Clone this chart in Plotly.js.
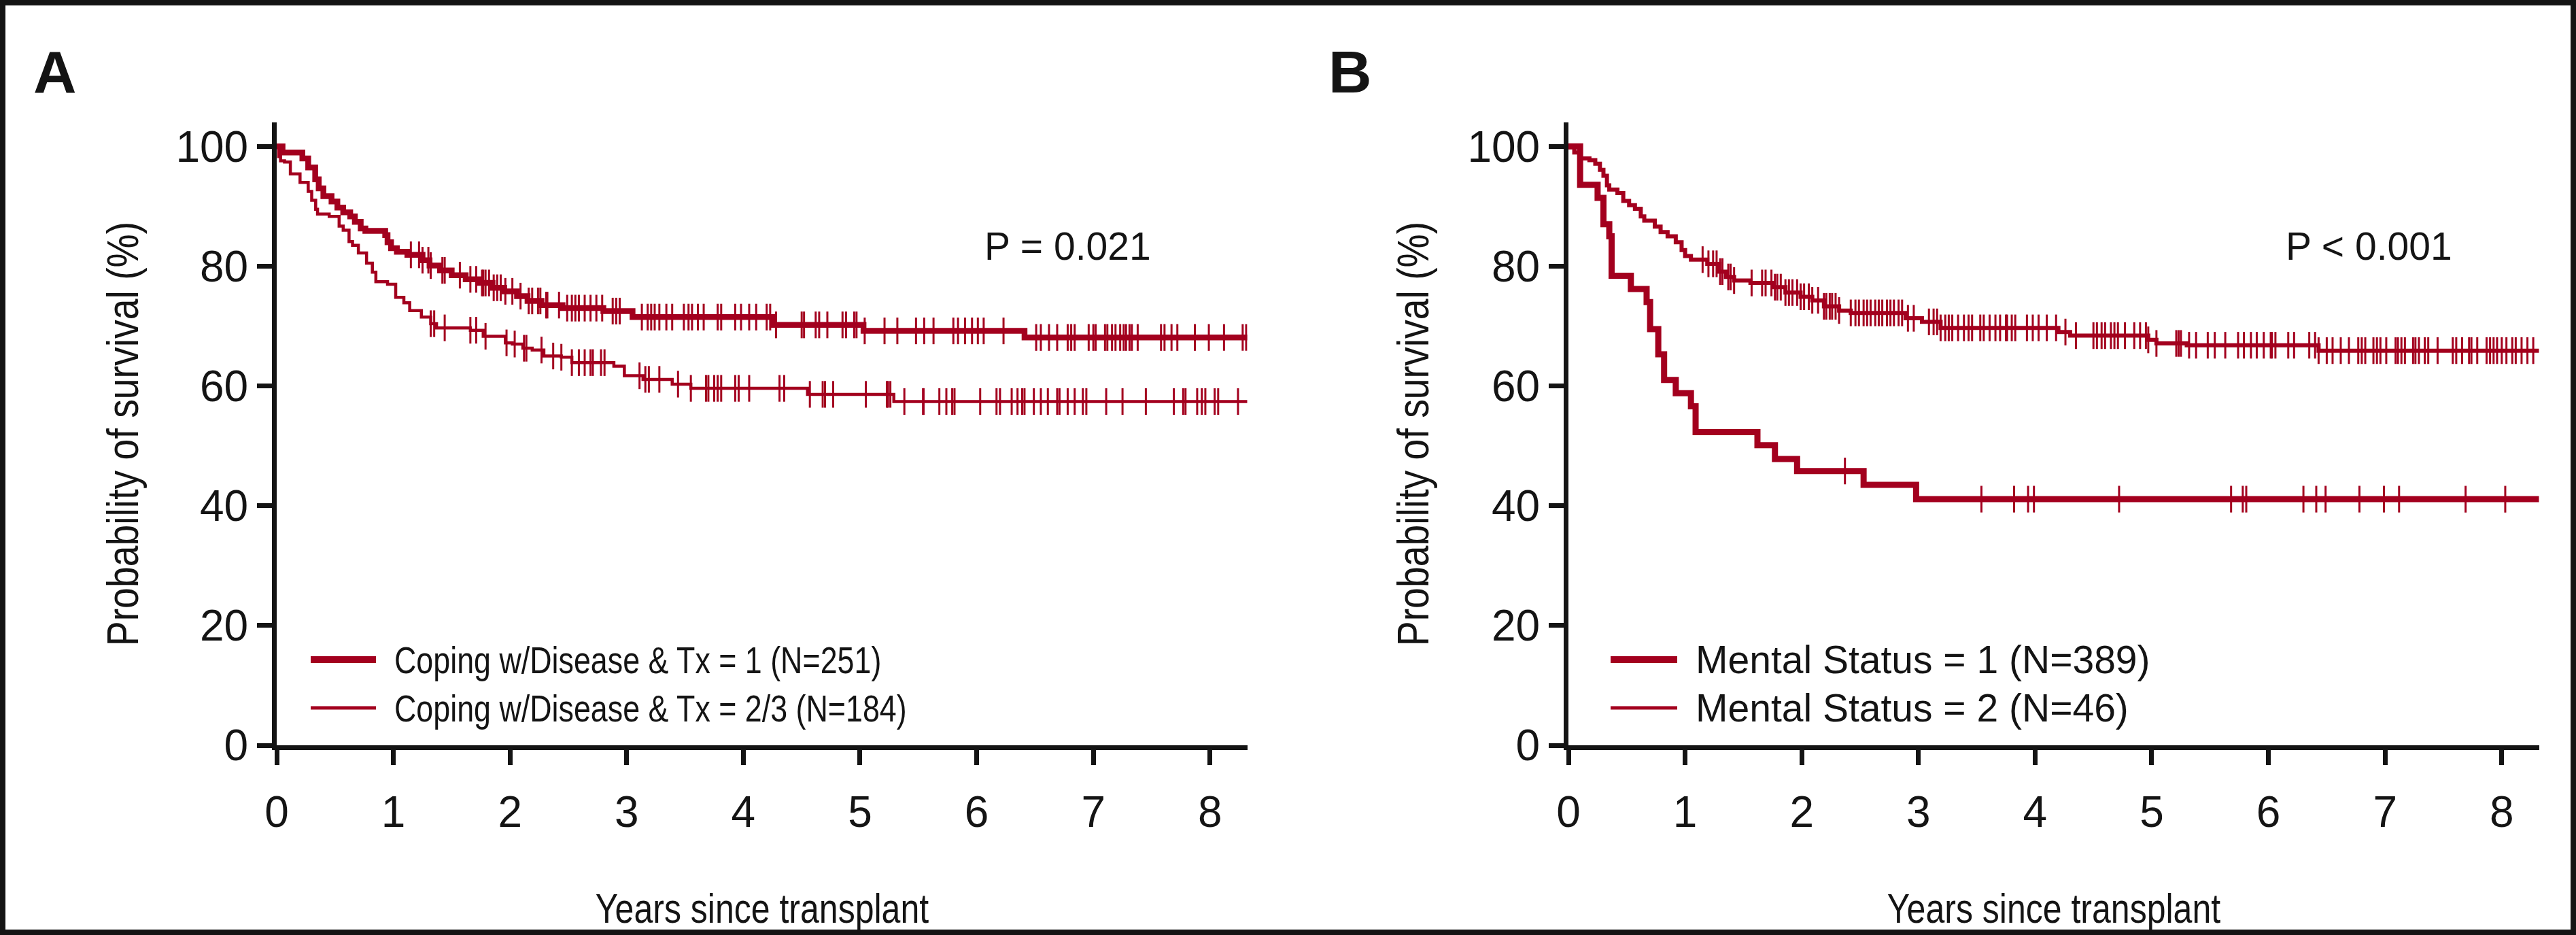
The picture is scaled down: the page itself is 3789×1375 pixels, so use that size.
<!DOCTYPE html>
<html>
<head>
<meta charset="utf-8">
<script src="https://cdn.plot.ly/plotly-3.0.1.min.js"></script>
<style>
  html, body { margin: 0; padding: 0; background: #fff; }
  #chart { width: 3789px; height: 1375px; }
</style>
</head>
<body>
<div id="chart"></div>
<script>
// ---------------- DATA ----------------
const xTickVals = [0, 1, 2, 3, 4, 5, 6, 7, 8];
const yTickVals = [0, 20, 40, 60, 80, 100];
const panelLabels = ['A', 'B'];
const pValueTexts = ['P = 0.021', 'P < 0.001'];
const xAxisTitle = 'Years since transplant';
const yAxisTitle = 'Probability of survival (%)';

// Panel A
const namesA = ['Coping w/Disease & Tx = 1 (N=251)', 'Coping w/Disease & Tx = 2/3 (N=184)'];
const aHiTime = [0, 0.05, 0.22, 0.27, 0.33, 0.36, 0.40, 0.47, 0.52, 0.57, 0.63, 0.67, 0.72, 0.76, 0.93, 0.95, 0.98, 1.03, 1.12, 1.25, 1.31, 1.40, 1.50, 1.62, 1.73, 1.85, 1.95, 2.06, 2.15, 2.27, 2.45, 2.80, 3.05, 4.25, 5.03, 6.41, 8.32];
const aHiSurv = [100, 99.0, 98.0, 96.5, 94.5, 93.0, 91.7, 90.8, 89.8, 89.0, 88.3, 87.4, 86.3, 85.9, 85.2, 84.0, 83.0, 82.4, 81.9, 81.0, 80.1, 79.3, 78.5, 77.8, 77.2, 76.4, 75.8, 75.0, 74.2, 73.5, 73.0, 72.5, 71.5, 70.2, 69.2, 68.1, 68.1];
const aHiCens = [1.15, 1.22, 1.25, 1.30, 1.32, 1.42, 1.44, 1.57, 1.66, 1.71, 1.76, 1.77, 1.79, 1.82, 1.86, 1.89, 1.92, 1.96, 2.02, 2.09, 2.16, 2.19, 2.24, 2.26, 2.31, 2.32, 2.42, 2.49, 2.53, 2.56, 2.59, 2.64, 2.69, 2.74, 2.79, 2.88, 2.91, 2.94, 3.13, 3.18, 3.21, 3.24, 3.28, 3.34, 3.39, 3.49, 3.53, 3.56, 3.61, 3.66, 3.78, 3.81, 3.93, 3.98, 4.05, 4.11, 4.20, 4.23, 4.28, 4.50, 4.52, 4.62, 4.65, 4.72, 4.85, 4.88, 4.95, 4.97, 5.04, 5.21, 5.32, 5.48, 5.55, 5.63, 5.80, 5.84, 5.90, 5.96, 6.01, 6.06, 6.23, 6.51, 6.55, 6.62, 6.69, 6.78, 6.81, 6.84, 6.96, 7.00, 7.02, 7.10, 7.12, 7.16, 7.19, 7.23, 7.26, 7.28, 7.31, 7.33, 7.38, 7.58, 7.61, 7.67, 7.72, 7.87, 7.99, 8.12, 8.28, 8.31];
const aLoTime = [0, 0.017, 0.033, 0.067, 0.117, 0.20, 0.27, 0.30, 0.334, 0.35, 0.45, 0.535, 0.57, 0.62, 0.65, 0.70, 0.77, 0.82, 0.85, 0.95, 1.02, 1.09, 1.14, 1.24, 1.32, 1.37, 1.66, 1.77, 1.96, 2.02, 2.11, 2.19, 2.29, 2.44, 2.53, 2.89, 2.98, 3.14, 3.39, 3.55, 4.55, 5.29, 8.32];
const aLoSurv = [100, 98.3, 97.6, 97.4, 95.4, 94.0, 92.5, 91.0, 89.5, 88.7, 88.3, 86.7, 86.0, 84.1, 83.5, 82.2, 80.5, 79.0, 77.4, 77.0, 74.8, 73.9, 72.6, 71.5, 70.4, 69.7, 69.3, 68.3, 67.2, 67.0, 66.3, 66.0, 65.0, 64.8, 63.9, 63.3, 61.7, 61.1, 60.3, 59.6, 58.6, 57.4, 57.4];
const aLoCens = [1.32, 1.35, 1.44, 1.66, 1.71, 1.79, 1.97, 2.04, 2.12, 2.14, 2.27, 2.37, 2.44, 2.53, 2.59, 2.64, 2.69, 2.71, 2.78, 2.81, 3.11, 3.16, 3.19, 3.28, 3.44, 3.55, 3.68, 3.70, 3.75, 3.78, 3.81, 3.93, 3.96, 4.05, 4.31, 4.35, 4.57, 4.68, 4.70, 4.77, 5.05, 5.23, 5.24, 5.26, 5.38, 5.54, 5.545, 5.68, 5.74, 5.79, 5.81, 6.03, 6.17, 6.20, 6.30, 6.35, 6.39, 6.41, 6.49, 6.55, 6.61, 6.69, 6.71, 6.78, 6.84, 6.91, 6.94, 7.11, 7.25, 7.45, 7.69, 7.77, 7.79, 7.89, 7.93, 7.96, 8.04, 8.07, 8.24];

// Panel B
const namesB = ['Mental Status = 1 (N=389)', 'Mental Status = 2 (N=46)'];
const bHiTime = [0, 0.05, 0.10, 0.18, 0.23, 0.27, 0.30, 0.33, 0.35, 0.42, 0.47, 0.52, 0.57, 0.62, 0.65, 0.74, 0.79, 0.85, 0.92, 0.97, 1.00, 1.05, 1.19, 1.29, 1.35, 1.42, 1.56, 1.76, 1.86, 1.99, 2.09, 2.19, 2.32, 2.42, 2.89, 3.03, 3.19, 4.20, 4.30, 4.97, 5.04, 5.30, 6.43, 8.32];
const bHiSurv = [100, 99.0, 98.0, 97.7, 97.1, 96.1, 95.1, 93.5, 92.8, 92.2, 90.9, 90.2, 89.6, 88.3, 87.6, 86.6, 85.7, 85.0, 84.0, 82.7, 81.7, 81.1, 80.4, 79.1, 78.2, 77.6, 77.2, 76.5, 75.6, 74.9, 74.3, 73.3, 72.6, 72.2, 71.3, 70.7, 69.7, 69.0, 68.4, 67.7, 67.1, 66.8, 65.9, 65.9];
const bHiCens = [1.15, 1.20, 1.24, 1.27, 1.30, 1.32, 1.37, 1.39, 1.42, 1.57, 1.66, 1.69, 1.74, 1.77, 1.79, 1.82, 1.86, 1.89, 1.92, 1.96, 1.99, 2.02, 2.06, 2.09, 2.14, 2.19, 2.21, 2.24, 2.26, 2.29, 2.32, 2.42, 2.46, 2.49, 2.53, 2.56, 2.59, 2.63, 2.66, 2.69, 2.73, 2.76, 2.79, 2.83, 2.86, 2.91, 2.96, 3.09, 3.13, 3.16, 3.19, 3.23, 3.26, 3.29, 3.34, 3.39, 3.43, 3.46, 3.53, 3.56, 3.61, 3.66, 3.70, 3.75, 3.76, 3.80, 3.83, 3.93, 3.98, 4.03, 4.10, 4.18, 4.26, 4.35, 4.50, 4.53, 4.57, 4.60, 4.65, 4.68, 4.71, 4.77, 4.85, 4.90, 4.95, 4.97, 5.04, 5.21, 5.23, 5.25, 5.32, 5.38, 5.48, 5.54, 5.63, 5.74, 5.79, 5.85, 5.90, 5.96, 6.02, 6.03, 6.06, 6.17, 6.22, 6.35, 6.40, 6.43, 6.50, 6.55, 6.62, 6.69, 6.77, 6.80, 6.83, 6.90, 6.93, 6.96, 7.01, 7.09, 7.11, 7.14, 7.17, 7.24, 7.26, 7.29, 7.34, 7.37, 7.45, 7.58, 7.61, 7.66, 7.72, 7.74, 7.79, 7.87, 7.90, 7.93, 7.96, 8.00, 8.04, 8.09, 8.12, 8.17, 8.22, 8.27];
const bLoTime = [0, 0.10, 0.25, 0.30, 0.35, 0.37, 0.535, 0.67, 0.70, 0.77, 0.82, 0.92, 1.05, 1.09, 1.62, 1.77, 1.96, 2.53, 2.98, 8.32];
const bLoSurv = [100, 93.6, 91.4, 87.0, 85.0, 78.4, 76.2, 74.0, 69.5, 65.3, 61.0, 58.8, 56.6, 52.3, 50.1, 47.8, 45.8, 43.5, 41.1, 41.1];
const bLoCens = [2.37, 3.54, 3.82, 3.94, 3.99, 4.72, 5.68, 5.78, 5.81, 6.30, 6.41, 6.49, 6.78, 6.99, 7.12, 7.69, 8.03];

// ---------------- STYLE / LAYOUT ----------------
const W = 3789, H = 1375;
const RED = '#a3001e';
const INK = '#141414';
const FONT = 'Liberation Sans, Arial, Helvetica, sans-serif';
const px = v => v / W;          // pixel -> paper x
const py = v => 1 - v / H;      // pixel -> paper y

function survAt(times, surv, t) {
  let v = surv[0];
  for (let i = 0; i < times.length; i++) { if (times[i] <= t) v = surv[i]; else break; }
  return v;
}

function curve(times, surv, width, xa, ya, name) {
  return { x: times, y: surv, type: 'scatter', mode: 'lines', name: name,
    line: { shape: 'hv', color: RED, width: width }, xaxis: xa, yaxis: ya,
    showlegend: false, hoverinfo: 'skip' };
}
function censors(times, surv, cens, xa, ya, name) {
  return { x: cens, y: cens.map(t => survAt(times, surv, t)), type: 'scatter', mode: 'markers',
    name: name + ' censored', xaxis: xa, yaxis: ya, showlegend: false, hoverinfo: 'skip',
    marker: { symbol: 'line-ns', size: 28, color: RED, line: { color: RED, width: 3 } } };
}

const traces = [
  curve(aLoTime, aLoSurv, 4.5, 'x', 'y', namesA[1]),
  censors(aLoTime, aLoSurv, aLoCens, 'x', 'y', namesA[1]),
  curve(aHiTime, aHiSurv, 8.5, 'x', 'y', namesA[0]),
  censors(aHiTime, aHiSurv, aHiCens, 'x', 'y', namesA[0]),
  curve(bHiTime, bHiSurv, 6, 'x2', 'y2', namesB[0]),
  censors(bHiTime, bHiSurv, bHiCens, 'x2', 'y2', namesB[0]),
  curve(bLoTime, bLoSurv, 9, 'x2', 'y2', namesB[1]),
  censors(bLoTime, bLoSurv, bLoCens, 'x2', 'y2', namesB[1])
];

const axisCommon = {
  showline: true, linewidth: 7, linecolor: INK, mirror: false,
  ticks: 'outside', ticklen: 22, tickwidth: 7, tickcolor: INK,
  showgrid: false, zeroline: false, fixedrange: true,
  tickfont: { family: FONT, size: 64, color: INK }
};
const xAxisExtra = { ticklabelstandoff: 14 };

// panel geometry in pixels
const panels = [
  { left: 407, right: 1834.7, labelX: 81, titleX: 181, legLine: [457, 553], legText: 578, pX: 1570,
    legSize: 56, legSqueeze: 0.8 },
  { left: 2307, right: 3734.7, labelX: 1986, titleX: 2079, legLine: [2369, 2467], legText: 2492, pX: 3484,
    legSize: 57, legSqueeze: 1 }
];
const plotTop = 180.1, plotBottom = 1096;

const layout = {
  width: W, height: H,
  margin: { l: 0, r: 0, t: 0, b: 0, pad: 0 },
  paper_bgcolor: '#ffffff', plot_bgcolor: '#ffffff',
  showlegend: false,
  font: { family: FONT, color: INK },
  xaxis: Object.assign({}, axisCommon, xAxisExtra, { domain: [px(panels[0].left), px(panels[0].right)], range: [0, 8.32], tickvals: xTickVals, anchor: 'y' }),
  yaxis: Object.assign({}, axisCommon, { domain: [py(plotBottom), py(plotTop)], range: [0, 104], tickvals: yTickVals, anchor: 'x' }),
  xaxis2: Object.assign({}, axisCommon, xAxisExtra, { domain: [px(panels[1].left), px(panels[1].right)], range: [0, 8.32], tickvals: xTickVals, anchor: 'y2' }),
  yaxis2: Object.assign({}, axisCommon, { domain: [py(plotBottom), py(plotTop)], range: [0, 104], tickvals: yTickVals, anchor: 'x2' }),
  annotations: [],
  shapes: []
};

const esc = s => s.replace(/&/g, '&amp;').replace(/</g, '&lt;').replace(/>/g, '&gt;');
const legendNames = [namesA, namesB];
const legendWidths = [10, 5];
const legendY = [970, 1041];
const squeeze = [];   // condensed-type look: {index, factor}
function addAnn(a, factor) {
  layout.annotations.push(a);
  if (factor && factor !== 1) squeeze.push({ index: layout.annotations.length - 1, factor: factor });
}

panels.forEach((p, i) => {
  addAnn({ text: '<b>' + panelLabels[i] + '</b>', xref: 'paper', yref: 'paper',
    x: px(p.labelX), y: py(105), xanchor: 'center', yanchor: 'middle', showarrow: false,
    font: { family: FONT, size: 88, color: INK } });
  addAnn({ text: esc(pValueTexts[i]), xref: 'paper', yref: 'paper',
    x: px(p.pX), y: py(362), xanchor: 'center', yanchor: 'middle', showarrow: false,
    font: { family: FONT, size: 57, color: INK } });
  addAnn({ text: yAxisTitle, xref: 'paper', yref: 'paper', textangle: -90,
    x: px(p.titleX), y: py(638), xanchor: 'center', yanchor: 'middle', showarrow: false,
    font: { family: FONT, size: 64, color: INK } }, 0.865);
  addAnn({ text: xAxisTitle, xref: 'paper', yref: 'paper',
    x: px((p.left + p.right) / 2), y: py(1336), xanchor: 'center', yanchor: 'middle', showarrow: false,
    font: { family: FONT, size: 61, color: INK } }, 0.82);
  legendNames[i].forEach((nm, k) => {
    layout.shapes.push({ type: 'line', xref: 'paper', yref: 'paper',
      x0: px(p.legLine[0]), x1: px(p.legLine[1]), y0: py(legendY[k]), y1: py(legendY[k]),
      line: { color: RED, width: legendWidths[k] } });
    addAnn({ text: esc(nm), xref: 'paper', yref: 'paper', align: 'left',
      x: px(p.legText), y: py(legendY[k]), xanchor: 'left', yanchor: 'middle', showarrow: false,
      font: { family: FONT, size: p.legSize, color: INK } }, p.legSqueeze);
  });
});

// outer frame
layout.shapes.push({ type: 'rect', xref: 'paper', yref: 'paper',
  x0: px(4), x1: px(W - 4), y0: py(H - 4), y1: py(4), line: { color: INK, width: 8 }, fillcolor: 'rgba(0,0,0,0)' });

Plotly.newPlot('chart', traces, layout, { displayModeBar: false, staticPlot: true }).then(gd => {
  squeeze.forEach(s => {
    const t = gd.querySelector('.annotation[data-index="' + s.index + '"] text.annotation-text');
    if (!t) return;
    const w = t.getComputedTextLength();
    t.setAttribute('textLength', (w * s.factor).toFixed(1));
    t.setAttribute('lengthAdjust', 'spacingAndGlyphs');
  });
});
</script>
</body>
</html>
